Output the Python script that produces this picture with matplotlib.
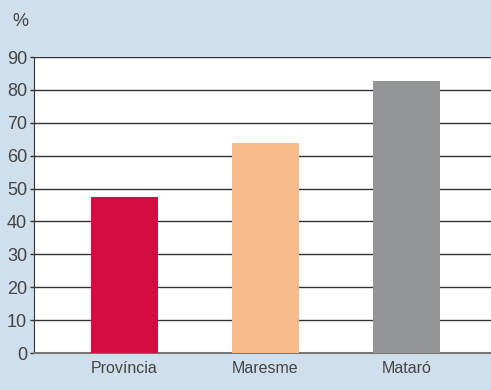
import matplotlib
matplotlib.use("Agg")
import matplotlib.pyplot as plt
from matplotlib import font_manager

categories = ["Província", "Maresme", "Mataró"]
values = [47.4, 63.8, 82.7]
colors = ["#d40c42", "#f9bb8a", "#949599"]
yticks = [0, 10, 20, 30, 40, 50, 60, 70, 80, 90]

names = {f.name for f in font_manager.fontManager.ttflist}
fam = "Liberation Sans Narrow" if "Liberation Sans Narrow" in names else "Liberation Sans"
plt.rcParams['font.family'] = [fam, 'DejaVu Sans']

bg = "#cfe0ec"
fig = plt.figure(figsize=(4.91, 3.90), dpi=100, facecolor=bg)
ax = fig.add_axes([34/491, 37/390, 1 - 34/491, 296/390])
ax.set_facecolor("white")

x = range(len(categories))
ax.bar(x, values, width=0.475, color=colors, zorder=3)
ax.set_xlim(-0.642, 2.6)
ax.set_ylim(0, 90)
ax.set_yticks(yticks)
ax.set_yticklabels([str(t) for t in yticks], fontsize=13, color="#444444")
ax.set_xticks(list(x))
ax.set_xticklabels(categories, fontsize=11.5, color="#444444")
ax.tick_params(axis='x', length=0, pad=6)
ax.tick_params(axis='y', length=3, width=1, color="#333333", pad=2)
for t in yticks[1:]:
    ax.axhline(t, color="#333333", lw=1, zorder=2)
for s in ["top", "right"]:
    ax.spines[s].set_visible(False)
ax.spines["left"].set_color("#333333")
ax.spines["bottom"].set_color("#777777")
ax.spines["bottom"].set_linewidth(1.5)

fig.text(12/491, 1 - 22/390, "%", fontsize=13, color="#444444", va="center", ha="left")
fig.savefig("out.png", dpi=100, facecolor=bg)
